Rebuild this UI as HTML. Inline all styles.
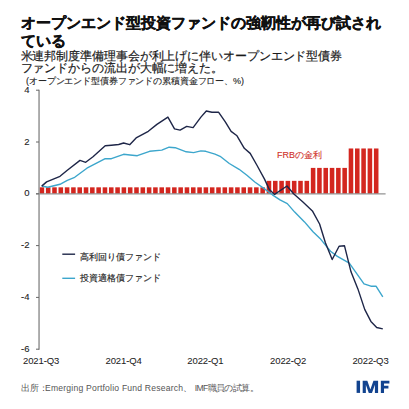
<!DOCTYPE html>
<html lang="ja"><head><meta charset="utf-8">
<style>
html,body{margin:0;padding:0;background:#fff;}
body{width:409px;height:409px;position:relative;overflow:hidden;font-family:"Liberation Sans",sans-serif;color:#222;}
.t{position:absolute;white-space:nowrap;}
#title{left:21px;top:14px;font-size:15px;font-weight:bold;line-height:18px;color:#111;-webkit-text-stroke:0.35px #111;}
#sub{left:20.5px;top:49.75px;font-size:12px;letter-spacing:-0.09px;line-height:12.5px;color:#1a1a1a;-webkit-text-stroke:0.2px #1a1a1a;}
#unit{left:26px;top:76px;font-size:9px;letter-spacing:-0.12px;line-height:11px;color:#222;-webkit-text-stroke:0.12px #222;}
.yl{position:absolute;right:379.5px;font-size:9.5px;line-height:12px;color:#222;-webkit-text-stroke:0.1px #222;text-align:right;}
.xl{position:absolute;top:355px;width:60px;text-align:center;font-size:9.5px;letter-spacing:-0.12px;line-height:12px;color:#222;-webkit-text-stroke:0.05px #222;}
.lg{position:absolute;left:80px;font-size:9.3px;line-height:11px;color:#222;-webkit-text-stroke:0.15px #222;}
#foot{left:21px;top:383px;font-size:8.6px;line-height:11px;color:#555;}
#frb{left:277px;top:149.3px;font-size:9px;line-height:12px;color:#cf2f28;-webkit-text-stroke:0.1px #cf2f28;}
#imf{left:356px;top:378px;font-size:17.5px;font-weight:bold;line-height:17px;color:#1b4a8c;letter-spacing:1.2px;-webkit-text-stroke:0.3px #1b4a8c;}
svg{position:absolute;left:0;top:0;}
</style></head><body>
<svg width="409" height="409" viewBox="0 0 409 409">
<g fill="#d3261f"><rect x="39.60" y="187.33" width="4.55" height="6.47"/><rect x="45.91" y="187.33" width="4.55" height="6.47"/><rect x="52.22" y="187.33" width="4.55" height="6.47"/><rect x="58.52" y="187.33" width="4.55" height="6.47"/><rect x="64.83" y="187.33" width="4.55" height="6.47"/><rect x="71.14" y="187.33" width="4.55" height="6.47"/><rect x="77.45" y="187.33" width="4.55" height="6.47"/><rect x="83.76" y="187.33" width="4.55" height="6.47"/><rect x="90.06" y="187.33" width="4.55" height="6.47"/><rect x="96.37" y="187.33" width="4.55" height="6.47"/><rect x="102.68" y="187.33" width="4.55" height="6.47"/><rect x="108.99" y="187.33" width="4.55" height="6.47"/><rect x="115.30" y="187.33" width="4.55" height="6.47"/><rect x="121.60" y="187.33" width="4.55" height="6.47"/><rect x="127.91" y="187.33" width="4.55" height="6.47"/><rect x="134.22" y="187.33" width="4.55" height="6.47"/><rect x="140.53" y="187.33" width="4.55" height="6.47"/><rect x="146.84" y="187.33" width="4.55" height="6.47"/><rect x="153.14" y="187.33" width="4.55" height="6.47"/><rect x="159.45" y="187.33" width="4.55" height="6.47"/><rect x="165.76" y="187.33" width="4.55" height="6.47"/><rect x="172.07" y="187.33" width="4.55" height="6.47"/><rect x="178.38" y="187.33" width="4.55" height="6.47"/><rect x="184.68" y="187.33" width="4.55" height="6.47"/><rect x="190.99" y="187.33" width="4.55" height="6.47"/><rect x="197.30" y="187.33" width="4.55" height="6.47"/><rect x="203.61" y="187.33" width="4.55" height="6.47"/><rect x="209.92" y="187.33" width="4.55" height="6.47"/><rect x="216.22" y="187.33" width="4.55" height="6.47"/><rect x="222.53" y="187.33" width="4.55" height="6.47"/><rect x="228.84" y="187.33" width="4.55" height="6.47"/><rect x="235.15" y="187.33" width="4.55" height="6.47"/><rect x="241.46" y="187.33" width="4.55" height="6.47"/><rect x="247.76" y="187.33" width="4.55" height="6.47"/><rect x="254.07" y="187.33" width="4.55" height="6.47"/><rect x="260.38" y="187.33" width="4.55" height="6.47"/><rect x="266.69" y="180.85" width="4.55" height="12.95"/><rect x="273.00" y="180.85" width="4.55" height="12.95"/><rect x="279.30" y="180.85" width="4.55" height="12.95"/><rect x="285.61" y="180.85" width="4.55" height="12.95"/><rect x="291.92" y="180.85" width="4.55" height="12.95"/><rect x="298.23" y="180.85" width="4.55" height="12.95"/><rect x="304.54" y="180.85" width="4.55" height="12.95"/><rect x="310.84" y="167.90" width="4.55" height="25.90"/><rect x="317.15" y="167.90" width="4.55" height="25.90"/><rect x="323.46" y="167.90" width="4.55" height="25.90"/><rect x="329.77" y="167.90" width="4.55" height="25.90"/><rect x="336.08" y="167.90" width="4.55" height="25.90"/><rect x="342.38" y="167.90" width="4.55" height="25.90"/><rect x="348.69" y="148.48" width="4.55" height="45.32"/><rect x="355.00" y="148.48" width="4.55" height="45.32"/><rect x="361.31" y="148.48" width="4.55" height="45.32"/><rect x="367.62" y="148.48" width="4.55" height="45.32"/><rect x="373.92" y="148.48" width="4.55" height="45.32"/></g>
<g stroke="#939393" stroke-width="1.2">
<line x1="39.05" y1="89.8" x2="39.05" y2="349.7" stroke-width="1.5"/>
<line x1="36" y1="193.8" x2="385.6" y2="193.8"/>
</g><g stroke="#666" stroke-width="1"><line x1="36" y1="90.20" x2="39" y2="90.20"/><line x1="36" y1="142.00" x2="39" y2="142.00"/><line x1="36" y1="193.80" x2="39" y2="193.80"/><line x1="36" y1="245.60" x2="39" y2="245.60"/><line x1="36" y1="297.40" x2="39" y2="297.40"/><line x1="36" y1="349.20" x2="39" y2="349.20"/></g>
<polyline fill="none" stroke="#3ca6cc" stroke-width="1.4" stroke-linejoin="round" points="41.7,186.0 47.8,187.3 60.0,184.3 67.3,180.3 74.7,177.3 86.9,168.2 105.2,158.7 111.4,158.7 123.6,154.3 130.0,155.0 137.3,155.7 149.6,151.3 161.8,150.1 169.1,147.2 175.2,147.7 186.2,151.8 193.6,152.6 200.9,150.9 205.8,151.3 215.0,154.1 220.1,156.3 229.3,163.5 239.1,169.3 246.9,175.2 254.8,182.0 264.5,188.9 272.4,194.8 280.0,199.9 287.3,203.6 294.7,212.1 304.5,221.9 313.0,231.7 320.0,238.4 330.5,251.3 337.4,256.4 349.3,263.2 364.0,283.8 370.9,286.2 376.0,286.2 382.8,296.8"/>
<polyline fill="none" stroke="#1e2648" stroke-width="1.4" stroke-linejoin="round" points="41.7,186.1 46.6,181.9 60.0,176.3 67.3,170.2 80.0,160.4 85.7,162.3 93.0,156.7 105.2,145.7 111.4,145.2 118.7,144.5 123.6,143.0 129.7,144.7 136.1,137.9 148.3,131.3 156.9,124.4 167.9,117.1 174.5,128.9 180.1,130.1 186.7,126.4 193.1,127.6 200.9,117.1 206.3,111.0 211.9,112.2 218.7,112.3 225.3,121.9 231.1,131.4 237.0,135.8 244.3,148.3 250.2,153.4 256.8,165.0 264.5,179.1 269.4,189.6 274.6,194.4 287.0,186.0 293.6,193.7 303.2,202.3 312.4,210.9 319.6,224.0 325.4,242.7 332.2,259.5 339.1,246.2 344.5,245.8 351.0,271.8 357.9,288.9 364.7,309.4 370.9,321.4 376.7,327.5 382.8,328.9"/>
<line x1="62.3" y1="254.2" x2="75.1" y2="254.2" stroke="#1e2648" stroke-width="1.4"/>
<line x1="62.3" y1="278.3" x2="75.1" y2="278.3" stroke="#3ca6cc" stroke-width="1.4"/>
<g fill="#12438f">
<rect x="356.6" y="380.7" width="3.45" height="12.2"/>
<polygon points="362.69,392.91 362.69,380.69 367.33,380.69 370.37,389.49 373.45,380.69 378.09,380.69 378.09,392.91 374.91,392.91 374.91,384.85 371.98,392.91 368.80,392.91 365.87,384.85 365.87,392.91"/>
<polygon points="380.85,380.69 389.4,380.69 389.4,383.62 384.02,383.62 384.02,385.82 388.43,385.82 388.43,388.51 384.02,388.51 384.02,392.91 380.85,392.91"/>
</g>
</svg>
<div class="t" id="title">オープンエンド型投資ファンドの強靭性が再び試され<br>ている</div>
<div class="t" id="sub">米連邦制度準備理事会が利上げに伴いオープンエンド型債券<br>ファンドからの流出が大幅に増えた。</div>
<div class="t" id="unit">(オープンエンド型債券ファンドの累積資金フロー、%)</div>
<div class="yl" style="top:83.7px">4</div><div class="yl" style="top:135.5px">2</div><div class="yl" style="top:187.3px">0</div><div class="yl" style="top:239.1px">-2</div><div class="yl" style="top:290.9px">-4</div><div class="yl" style="top:342.7px">-6</div>
<div class="xl" style="left:11.1px">2021-Q3</div><div class="xl" style="left:93.6px">2021-Q4</div><div class="xl" style="left:175.4px">2022-Q1</div><div class="xl" style="left:258.2px">2022-Q2</div><div class="xl" style="left:340.5px">2022-Q3</div>
<div class="t lg" style="top:252px">高利回り債ファンド</div>
<div class="t lg" style="top:273px">投資適格債ファンド</div>
<div class="t" id="frb">FRBの金利</div>
<div class="t" id="foot">出所<span style="margin-right:-3px">：</span><span style="letter-spacing:0.2px">Emerging Portfolio Fund Research</span>、 <span style="letter-spacing:-0.6px">IMF職員の試算。</span></div>

</body></html>
